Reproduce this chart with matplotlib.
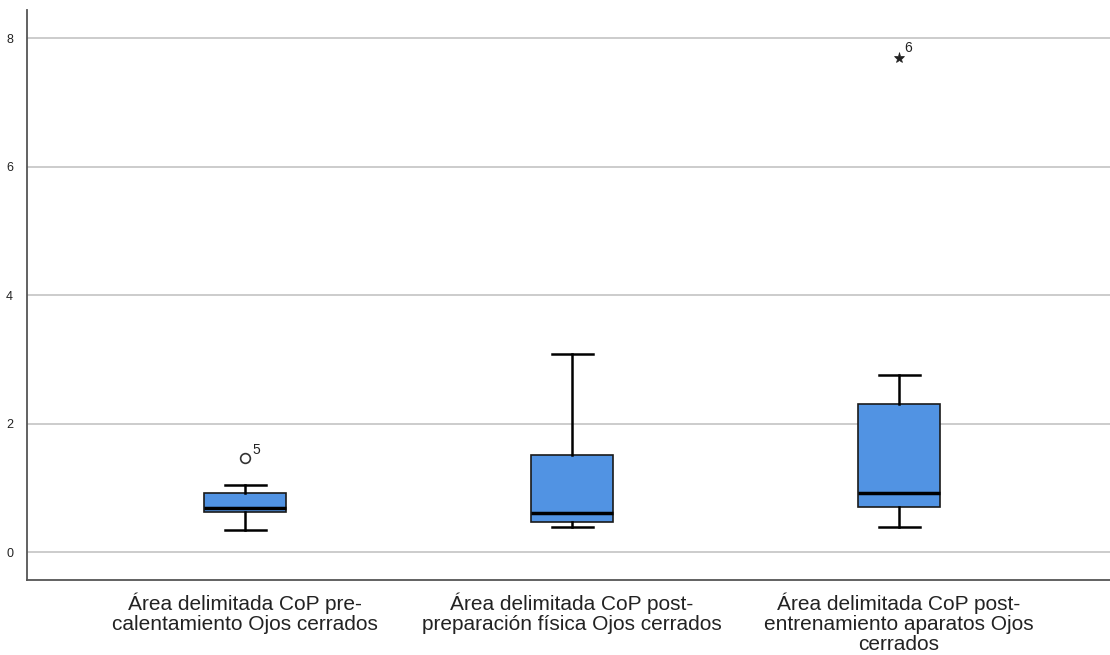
import matplotlib
matplotlib.use("Agg")
import matplotlib.pyplot as plt

plt.rcParams['font.family'] = ['Liberation Sans', 'DejaVu Sans']

categories = ["Área delimitada CoP pre-\ncalentamiento Ojos cerrados",
              "Área delimitada CoP post-\npreparación física Ojos cerrados",
              "Área delimitada CoP post-\nentrenamiento aparatos Ojos\ncerrados"]
whislo = [0.34, 0.39, 0.39]
q1 = [0.62, 0.47, 0.70]
med = [0.68, 0.61, 0.92]
q3 = [0.92, 1.51, 2.30]
whishi = [1.04, 3.08, 2.75]
outliers = [[1.46], [], []]
outlier_ids = [["5"], [], []]
extremes = [[], [], [7.70]]
extreme_ids = [[], [], ["6"]]
yticks = [0, 2, 4, 6, 8]

fig = plt.figure(figsize=(11.10, 6.55), dpi=100)
ax = fig.add_axes([0.0243, 0.1145, 0.9757, 0.8702])

stats = []
for i in range(3):
    stats.append(dict(whislo=whislo[i], q1=q1[i], med=med[i], q3=q3[i],
                      whishi=whishi[i], fliers=[]))
pos = [1, 2, 3]
ax.bxp(stats, positions=pos, widths=0.25, patch_artist=True, showfliers=False,
       boxprops=dict(facecolor='#5193e3', edgecolor='#1a1a1a', linewidth=1.2),
       medianprops=dict(color='black', linewidth=2.5),
       whiskerprops=dict(color='black', linewidth=1.8),
       capprops=dict(color='black', linewidth=1.8),
       capwidths=0.125, zorder=3)

for i in range(3):
    for v, t in zip(outliers[i], outlier_ids[i]):
        ax.plot(pos[i], v, marker='o', markersize=7, markerfacecolor='white',
                markeredgecolor='#333333', markeredgewidth=1.2, zorder=4)
        ax.annotate(t, (pos[i], v), xytext=(5, 3), textcoords='offset points',
                    fontsize=10, color='#222222')
    for v, t in zip(extremes[i], extreme_ids[i]):
        ax.plot(pos[i], v, marker='*', markersize=8, color='#222222',
                markeredgewidth=0.5, zorder=4)
        ax.annotate(t, (pos[i], v), xytext=(4, 4), textcoords='offset points',
                    fontsize=10, color='#222222')

ax.set_xlim(0.333, 3.645)
ax.set_ylim(-0.436, 8.44)
ax.set_yticks(yticks)
ax.set_yticklabels([str(v) for v in yticks], fontsize=9, color='#222222')
ax.set_xticks(pos)
ax.set_xticklabels(categories, fontsize=15, color='#222222', linespacing=1.08)
ax.tick_params(axis='x', length=0, pad=9)
ax.tick_params(axis='y', length=0, pad=10)
ax.yaxis.grid(True, color='#c8c8c8', linewidth=1.3)
ax.set_axisbelow(True)
for s in ['top', 'right']:
    ax.spines[s].set_visible(False)
for s in ['left', 'bottom']:
    ax.spines[s].set_color('#555555')
    ax.spines[s].set_linewidth(1.3)

fig.savefig("out.png", dpi=100)
